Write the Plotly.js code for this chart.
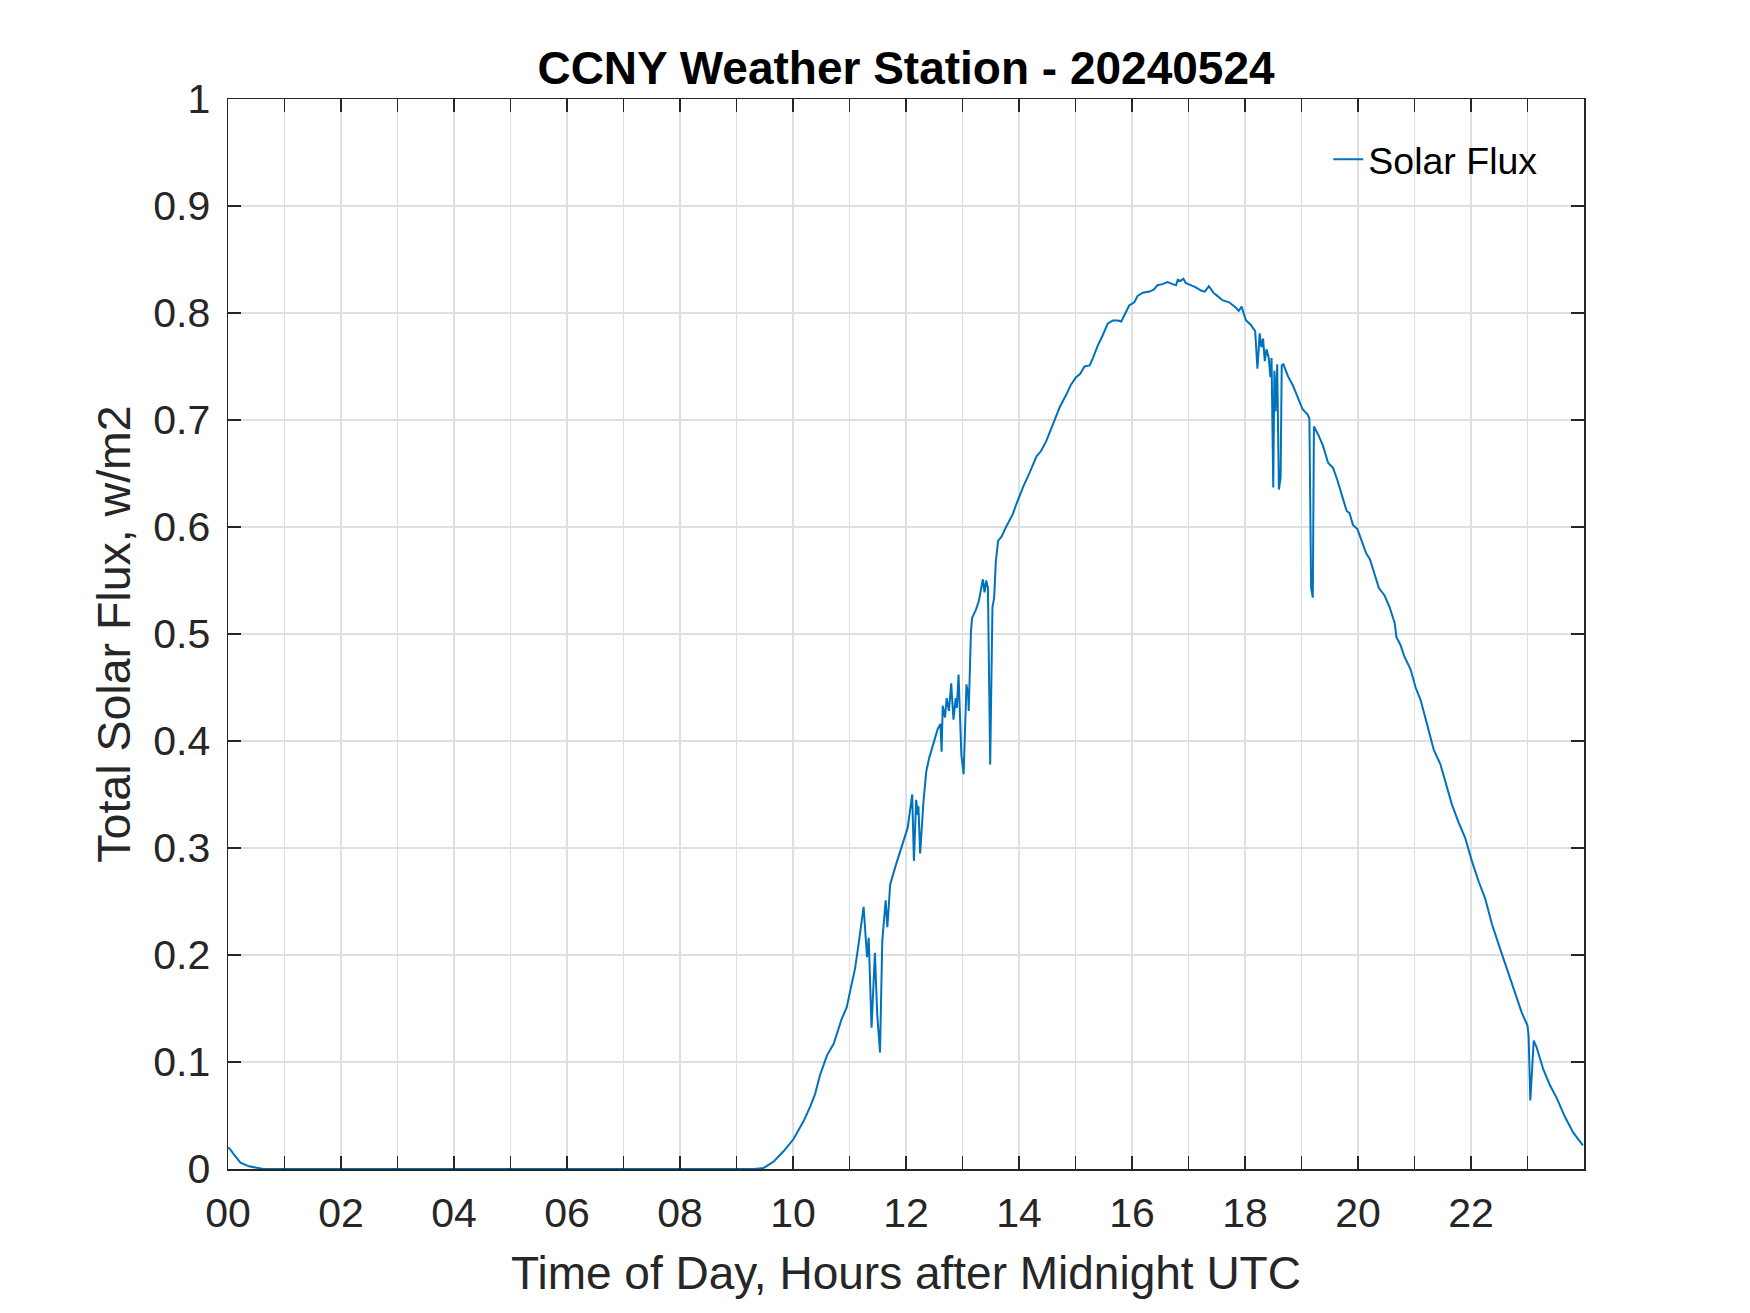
<!DOCTYPE html>
<html>
<head>
<meta charset="utf-8">
<script src="https://cdn.plot.ly/plotly-3.0.1.min.js"></script>
<style>
  html, body { margin: 0; padding: 0; background: #ffffff; }
  #chart { width: 1750px; height: 1313px; }
</style>
</head>
<body>
<div id="chart"></div>
<script>
// Time of day (hours after midnight UTC)
const hours = [
  0.00, 0.03, 0.10, 0.22, 0.37, 0.63, 9.31, 9.48, 9.66, 9.84,
  10.01, 10.19, 10.31, 10.39, 10.48, 10.60, 10.72, 10.78, 10.86, 10.95,
  11.04, 11.10, 11.16, 11.25, 11.31, 11.34, 11.39, 11.45, 11.49, 11.54,
  11.58, 11.64, 11.67, 11.72, 11.82, 11.94, 12.03, 12.11, 12.14, 12.18,
  12.21, 12.22, 12.25, 12.31, 12.36, 12.41, 12.47, 12.56, 12.61, 12.63,
  12.65, 12.69, 12.72, 12.76, 12.80, 12.84, 12.88, 12.90, 12.93, 12.98,
  13.02, 13.07, 13.10, 13.11, 13.15, 13.17, 13.24, 13.29, 13.36, 13.39,
  13.42, 13.45, 13.49, 13.53, 13.56, 13.59, 13.63, 13.69, 13.78, 13.89,
  13.95, 14.07, 14.19, 14.31, 14.39, 14.48, 14.60, 14.72, 14.84, 14.92,
  15.01, 15.08, 15.16, 15.25, 15.31, 15.39, 15.48, 15.57, 15.66, 15.75,
  15.81, 15.86, 15.95, 16.04, 16.10, 16.19, 16.31, 16.39, 16.45, 16.54,
  16.63, 16.72, 16.78, 16.81, 16.86, 16.91, 16.95, 17.04, 17.13, 17.22,
  17.29, 17.36, 17.44, 17.51, 17.60, 17.72, 17.84, 17.89, 17.94, 17.98,
  18.02, 18.10, 18.18, 18.22, 18.26, 18.29, 18.32, 18.35, 18.38, 18.42,
  18.45, 18.47, 18.50, 18.52, 18.54, 18.57, 18.60, 18.63, 18.65, 18.68,
  18.76, 18.85, 18.93, 19.02, 19.11, 19.14, 19.17, 19.20, 19.22, 19.29,
  19.38, 19.47, 19.56, 19.64, 19.73, 19.80, 19.85, 19.91, 19.99, 20.06,
  20.14, 20.21, 20.30, 20.37, 20.47, 20.56, 20.65, 20.68, 20.75, 20.82,
  20.93, 21.02, 21.11, 21.22, 21.34, 21.46, 21.55, 21.66, 21.78, 21.90,
  22.02, 22.14, 22.25, 22.37, 22.52, 22.64, 22.78, 22.90, 23.00, 23.02,
  23.05, 23.08, 23.11, 23.16, 23.28, 23.40, 23.52, 23.66, 23.81, 23.98
];

// Total solar flux (as labelled, w/m2)
const solarFlux = [
  0.020, 0.019, 0.014, 0.006, 0.0025, 0.000, 0.000, 0.001, 0.007, 0.017,
  0.028, 0.045, 0.059, 0.070, 0.088, 0.106, 0.117, 0.126, 0.140, 0.151,
  0.173, 0.188, 0.210, 0.245, 0.198, 0.216, 0.132, 0.202, 0.145, 0.109,
  0.213, 0.251, 0.226, 0.266, 0.284, 0.303, 0.319, 0.350, 0.288, 0.345,
  0.331, 0.339, 0.295, 0.344, 0.372, 0.384, 0.394, 0.411, 0.416, 0.390,
  0.433, 0.422, 0.440, 0.428, 0.454, 0.420, 0.440, 0.431, 0.462, 0.387,
  0.369, 0.453, 0.443, 0.428, 0.503, 0.515, 0.523, 0.531, 0.551, 0.539,
  0.550, 0.543, 0.378, 0.525, 0.534, 0.568, 0.587, 0.591, 0.601, 0.612,
  0.621, 0.637, 0.651, 0.666, 0.671, 0.680, 0.696, 0.712, 0.724, 0.733,
  0.740, 0.743, 0.750, 0.751, 0.758, 0.769, 0.779, 0.790, 0.793, 0.793,
  0.792, 0.797, 0.807, 0.810, 0.816, 0.819, 0.820, 0.822, 0.826, 0.827,
  0.829, 0.827, 0.826, 0.831, 0.830, 0.832, 0.828, 0.826, 0.824, 0.821,
  0.820, 0.825, 0.819, 0.816, 0.812, 0.810, 0.805, 0.802, 0.806, 0.799,
  0.793, 0.789, 0.783, 0.748, 0.781, 0.768, 0.776, 0.755, 0.766, 0.758,
  0.740, 0.758, 0.637, 0.746, 0.708, 0.752, 0.635, 0.646, 0.751, 0.752,
  0.741, 0.732, 0.722, 0.710, 0.705, 0.701, 0.543, 0.534, 0.694, 0.687,
  0.676, 0.660, 0.655, 0.643, 0.627, 0.615, 0.613, 0.602, 0.598, 0.588,
  0.576, 0.570, 0.556, 0.543, 0.536, 0.525, 0.510, 0.497, 0.490, 0.479,
  0.467, 0.450, 0.438, 0.416, 0.392, 0.378, 0.361, 0.341, 0.324, 0.309,
  0.287, 0.268, 0.253, 0.229, 0.205, 0.187, 0.165, 0.146, 0.134, 0.124,
  0.064, 0.093, 0.120, 0.114, 0.093, 0.078, 0.066, 0.049, 0.034, 0.022
];

// Axis ticks
const xTickVals = [0,1,2,3,4,5,6,7,8,9,10,11,12,13,14,15,16,17,18,19,20,21,22,23];
const xTickText = ['00','','02','','04','','06','','08','','10','','12','','14','','16','','18','','20','','22',''];
const yTickVals = [0,0.1,0.2,0.3,0.4,0.5,0.6,0.7,0.8,0.9,1];
const yTickText = ['0','0.1','0.2','0.3','0.4','0.5','0.6','0.7','0.8','0.9','1'];

const FONT = 'Liberation Sans, Arial, Helvetica, sans-serif';
const AX = '#262626';

const trace = {
  type: 'scatter',
  mode: 'lines',
  name: 'Solar Flux',
  x: hours,
  y: solarFlux,
  line: { color: '#0072BD', width: 2 }
};

const axisCommon = {
  showline: true,
  linecolor: AX,
  linewidth: 1.5,
  mirror: 'ticks',
  ticks: 'inside',
  ticklen: 13,
  tickwidth: 1.5,
  tickcolor: AX,
  showgrid: true,
  gridcolor: '#dfdfdf',
  gridwidth: 1.3,
  zeroline: false,
  tickfont: { family: FONT, size: 41, color: AX }
};

const layout = {
  width: 1750,
  height: 1313,
  paper_bgcolor: '#ffffff',
  plot_bgcolor: '#ffffff',
  margin: { l: 227.5, r: 166.25, t: 98.5, b: 144.4, pad: 0 },
  showlegend: true,
  title: {
    text: 'CCNY Weather Station - 20240524',
    font: { family: FONT, size: 46, color: '#000000', weight: 'bold' },
    x: 0.5,
    xanchor: 'center',
    xref: 'paper',
    y: 1 - 68 / 1313,
    yref: 'container',
    yanchor: 'middle'
  },
  xaxis: Object.assign({}, axisCommon, {
    range: [0, 24],
    tickmode: 'array',
    tickvals: xTickVals,
    ticktext: xTickText,
    ticklabelstandoff: 7,
    title: {
      text: 'Time of Day, Hours after Midnight UTC',
      font: { family: FONT, size: 46, color: AX },
      standoff: 22
    }
  }),
  yaxis: Object.assign({}, axisCommon, {
    range: [0, 1],
    tickmode: 'array',
    tickvals: yTickVals,
    ticktext: yTickText,
    ticklabelstandoff: 8,
    title: {
      text: 'Total Solar Flux, w/m2',
      font: { family: FONT, size: 46.5, color: AX },
      standoff: 8
    }
  }),
  legend: {
    x: (1543 - 227.5) / 1356.25,
    xanchor: 'right',
    y: 1 - (128 - 98.5) / 1070.1,
    yanchor: 'top',
    bgcolor: 'rgba(0,0,0,0)',
    borderwidth: 0,
    font: { family: FONT, size: 37.5, color: '#000000' }
  }
};

Plotly.newPlot('chart', [trace], layout, { displayModeBar: false, staticPlot: true });
</script>
</body>
</html>
